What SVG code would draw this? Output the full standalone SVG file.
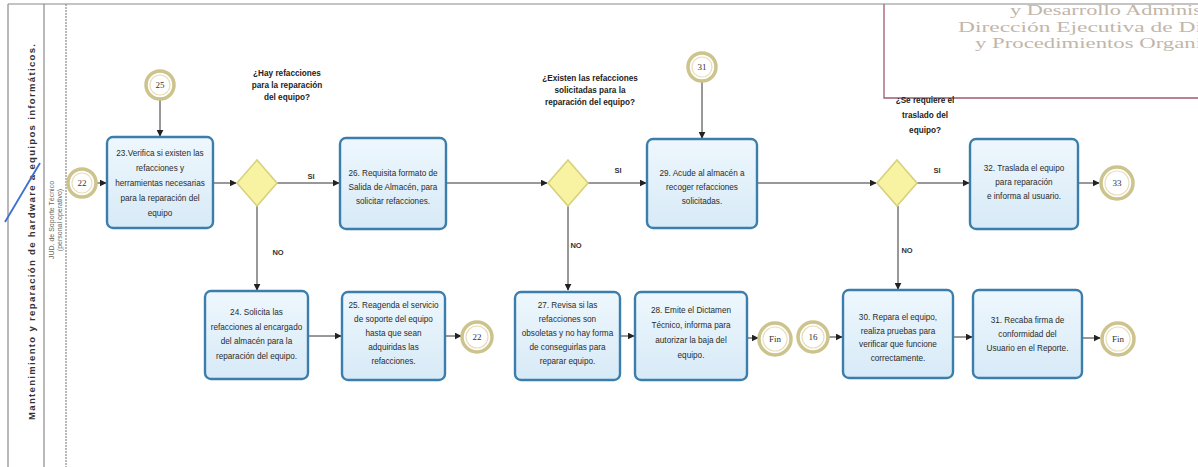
<svg xmlns="http://www.w3.org/2000/svg" width="1198" height="467" viewBox="0 0 1198 467">
  <defs>
    <linearGradient id="taskFill" x1="0" y1="0" x2="0" y2="1">
      <stop offset="0" stop-color="#eef7fd"/>
      <stop offset="1" stop-color="#d7eaf7"/>
    </linearGradient>
    <marker id="arrow" viewBox="0 0 10 10" refX="9" refY="5" markerWidth="7" markerHeight="7" orient="auto" markerUnits="userSpaceOnUse">
      <path d="M0,0 L10,5 L0,10 Z" fill="#222"/>
    </marker>
  </defs>
  <style>
    .task rect { fill: url(#taskFill); stroke: #3b7eab; stroke-width: 2.4; }
    .t { font-family: "Liberation Sans Narrow", "Liberation Sans", Arial, sans-serif; font-size: 8.2px; fill: #2b2b2b; text-anchor: middle; }
    .q { font-family: "Liberation Sans Narrow", "Liberation Sans", Arial, sans-serif; font-size: 8.2px; font-weight: bold; fill: #222; text-anchor: middle; }
    .lbl { font-family: "Liberation Sans", Arial, sans-serif; font-size: 7.5px; font-weight: bold; fill: #333; text-anchor: middle; }
    .ev .o { fill: #ffffff; stroke: #cdc38c; stroke-width: 3.5; }
    .ev .i { fill: none; stroke: #e6dfba; stroke-width: 1.2; }
    .ev text { font-family: "Liberation Serif", "Times New Roman", serif; font-size: 9px; fill: #333; text-anchor: middle; }
    .gw polygon { fill: #f7f3a3; stroke: #d6d27a; stroke-width: 1.6; }
    .conn path { fill: none; stroke: #333; stroke-width: 1; marker-end: url(#arrow); }
    .lane { stroke: #8a8a8a; stroke-width: 1.2; fill: none; }
    .stamp { font-family: "Liberation Serif", "Times New Roman", serif; font-size: 15.5px; fill: #c2b6aa; }
  </style>

  <rect x="0" y="0" width="1198" height="467" fill="#ffffff"/>

  <!-- stamp in the upper right corner -->
  <g id="stamp">
    <text class="stamp" x="1010" y="15" textLength="192" lengthAdjust="spacingAndGlyphs">y Desarrollo Adminis</text>
    <text class="stamp" x="958" y="31.5" textLength="244" lengthAdjust="spacingAndGlyphs">Dirección Ejecutiva de Di</text>
    <text class="stamp" x="975" y="48" textLength="227" lengthAdjust="spacingAndGlyphs">y Procedimientos Organi</text>
    <path d="M884,4 V98 H1198" fill="none" stroke="#a05a72" stroke-width="1.3"/>
  </g>

  <!-- pool and lane frame -->
  <g id="pool">
    <path class="lane" d="M8,4 H1198"/>
    <path class="lane" d="M8,4 V467"/>
    <path class="lane" d="M44,4 V467"/>
    <path d="M66,4 V467" stroke="#8a8a8a" stroke-width="1.2" stroke-dasharray="2 1"/>
    <text transform="translate(35,232) rotate(-90)" font-family="Liberation Sans, Arial, sans-serif" font-size="9.5" font-weight="bold" fill="#333" text-anchor="middle" textLength="376" lengthAdjust="spacing">Mantenimiento y reparación de hardware a equipos informáticos.</text>
    <text transform="translate(54,220) rotate(-90)" font-family="Liberation Sans, Arial, sans-serif" font-size="7" fill="#666" text-anchor="middle">JUD. de Soporte Técnico</text>
    <text transform="translate(62,220) rotate(-90)" font-family="Liberation Sans, Arial, sans-serif" font-size="7" fill="#666" text-anchor="middle">(personal operativo)</text>
    <path d="M40,163 L5,222" stroke="#3b6fd2" stroke-width="1.8" fill="none"/>
  </g>

  <!-- connectors -->
  <g id="connectors" class="conn">
    <path d="M97,183 H106"/>
    <path d="M160,100 V136"/>
    <path d="M213,183 H236"/>
    <path d="M277,183 H339"/>
    <path d="M446,183 H547"/>
    <path d="M702,82 V138"/>
    <path d="M588,183 H646"/>
    <path d="M757,183 H876"/>
    <path d="M917,183 H969"/>
    <path d="M1078,183 H1099"/>
    <path d="M257,206 V290"/>
    <path d="M568,206 V290"/>
    <path d="M898,206 V289"/>
    <path d="M308,336 H341"/>
    <path d="M445,336 H461"/>
    <path d="M620,336 H634"/>
    <path d="M747,338 H758"/>
    <path d="M829,337 H842"/>
    <path d="M953,337 H972"/>
    <path d="M1082,338 H1100"/>
  </g>

  <!-- gateway labels -->
  <g id="labels">
    <text class="lbl" x="311" y="179">SI</text>
    <text class="lbl" x="618" y="173">SI</text>
    <text class="lbl" x="937" y="173">SI</text>
    <text class="lbl" x="278" y="255">NO</text>
    <text class="lbl" x="576" y="248">NO</text>
    <text class="lbl" x="907" y="253">NO</text>
  </g>

  <!-- questions -->
  <g id="q1"><text class="q" x="287" y="76">¿Hay refacciones</text><text class="q" x="287" y="88">para la reparación</text><text class="q" x="287" y="100">del equipo?</text></g>
  <g id="q2"><text class="q" x="590" y="81">¿Existen las refacciones</text><text class="q" x="590" y="93">solicitadas para la</text><text class="q" x="590" y="105">reparación del equipo?</text></g>
  <g id="q3"><text class="q" x="925" y="103">¿Se requiere el</text><text class="q" x="925" y="118">traslado del</text><text class="q" x="925" y="133">equipo?</text></g>

  <!-- events -->
  <g id="ev22a" class="ev"><circle class="o" cx="82" cy="183" r="14"/><circle class="i" cx="82" cy="183" r="10"/><text x="82" y="186">22</text></g>
  <g id="ev25" class="ev"><circle class="o" cx="160" cy="85" r="14"/><circle class="i" cx="160" cy="85" r="10"/><text x="160" y="88">25</text></g>
  <g id="ev31" class="ev"><circle class="o" cx="702" cy="67" r="14"/><circle class="i" cx="702" cy="67" r="10"/><text x="702" y="70">31</text></g>
  <g id="ev33" class="ev"><circle class="o" cx="1117" cy="183" r="16"/><circle class="i" cx="1117" cy="183" r="12"/><text x="1117" y="186">33</text></g>
  <g id="ev22b" class="ev"><circle class="o" cx="477" cy="337" r="15"/><circle class="i" cx="477" cy="337" r="11"/><text x="477" y="340">22</text></g>
  <g id="fin1" class="ev"><circle class="o" cx="775" cy="339" r="16"/><circle class="i" cx="775" cy="339" r="12"/><text x="775" y="342">Fin</text></g>
  <g id="ev16" class="ev"><circle class="o" cx="813" cy="337" r="15"/><circle class="i" cx="813" cy="337" r="11"/><text x="813" y="340">16</text></g>
  <g id="fin2" class="ev"><circle class="o" cx="1118" cy="339" r="16"/><circle class="i" cx="1118" cy="339" r="12"/><text x="1118" y="342">Fin</text></g>

  <!-- gateways -->
  <g id="gw1" class="gw"><polygon points="257,160 277,183 257,206 237,183"/></g>
  <g id="gw2" class="gw"><polygon points="568,160 588,183 568,206 548,183"/></g>
  <g id="gw3" class="gw"><polygon points="897,160 917,183 897,206 877,183"/></g>

  <!-- tasks -->
  <g id="t23" class="task"><rect x="107" y="137" width="106" height="91" rx="6"/>
    <text class="t" x="160" y="156">23.Verifica si existen las</text><text class="t" x="160" y="171">refacciones y</text><text class="t" x="160" y="186">herramientas necesarias</text><text class="t" x="160" y="201">para la reparación del</text><text class="t" x="160" y="216">equipo</text></g>
  <g id="t26" class="task"><rect x="340" y="138" width="106" height="91" rx="6"/>
    <text class="t" x="393" y="176">26. Requisita formato de</text><text class="t" x="393" y="190">Salida de Almacén, para</text><text class="t" x="393" y="204">solicitar refacciones.</text></g>
  <g id="t29" class="task"><rect x="647" y="139" width="110" height="89" rx="6"/>
    <text class="t" x="702" y="176">29. Acude al almacén a</text><text class="t" x="702" y="190">recoger refacciones</text><text class="t" x="702" y="204">solicitadas.</text></g>
  <g id="t32" class="task"><rect x="970" y="139" width="108" height="90" rx="6"/>
    <text class="t" x="1024" y="171">32. Traslada el equipo</text><text class="t" x="1024" y="185">para reparación</text><text class="t" x="1024" y="199">e informa al usuario.</text></g>
  <g id="t24" class="task"><rect x="205" y="291" width="103" height="88" rx="6"/>
    <text class="t" x="256.5" y="315">24. Solicita las</text><text class="t" x="256.5" y="329.5">refacciones al encargado</text><text class="t" x="256.5" y="344">del almacén para la</text><text class="t" x="256.5" y="358.5">reparación del equipo.</text></g>
  <g id="t25" class="task"><rect x="342" y="292" width="103" height="88" rx="6"/>
    <text class="t" x="393.5" y="308">25. Reagenda el servicio</text><text class="t" x="393.5" y="322">de soporte del equipo</text><text class="t" x="393.5" y="336">hasta que sean</text><text class="t" x="393.5" y="350">adquiridas las</text><text class="t" x="393.5" y="364">refacciones.</text></g>
  <g id="t27" class="task"><rect x="515" y="292" width="105" height="88" rx="6"/>
    <text class="t" x="567.5" y="308">27. Revisa si las</text><text class="t" x="567.5" y="322">refacciones son</text><text class="t" x="567.5" y="336">obsoletas y no hay forma</text><text class="t" x="567.5" y="350">de conseguirlas para</text><text class="t" x="567.5" y="364">reparar equipo.</text></g>
  <g id="t28" class="task"><rect x="635" y="292" width="112" height="88" rx="6"/>
    <text class="t" x="691" y="313">28. Emite el Dictamen</text><text class="t" x="691" y="328">Técnico, informa para</text><text class="t" x="691" y="343">autorizar la baja del</text><text class="t" x="691" y="358">equipo.</text></g>
  <g id="t30" class="task"><rect x="843" y="290" width="110" height="88" rx="6"/>
    <text class="t" x="898" y="320">30. Repara el equipo,</text><text class="t" x="898" y="333.5">realiza pruebas para</text><text class="t" x="898" y="347">verificar que funcione</text><text class="t" x="898" y="360.5">correctamente.</text></g>
  <g id="t31" class="task"><rect x="973" y="290" width="109" height="88" rx="6"/>
    <text class="t" x="1027.5" y="323">31. Recaba firma de</text><text class="t" x="1027.5" y="337">conformidad del</text><text class="t" x="1027.5" y="351">Usuario en el Reporte.</text></g>
</svg>
